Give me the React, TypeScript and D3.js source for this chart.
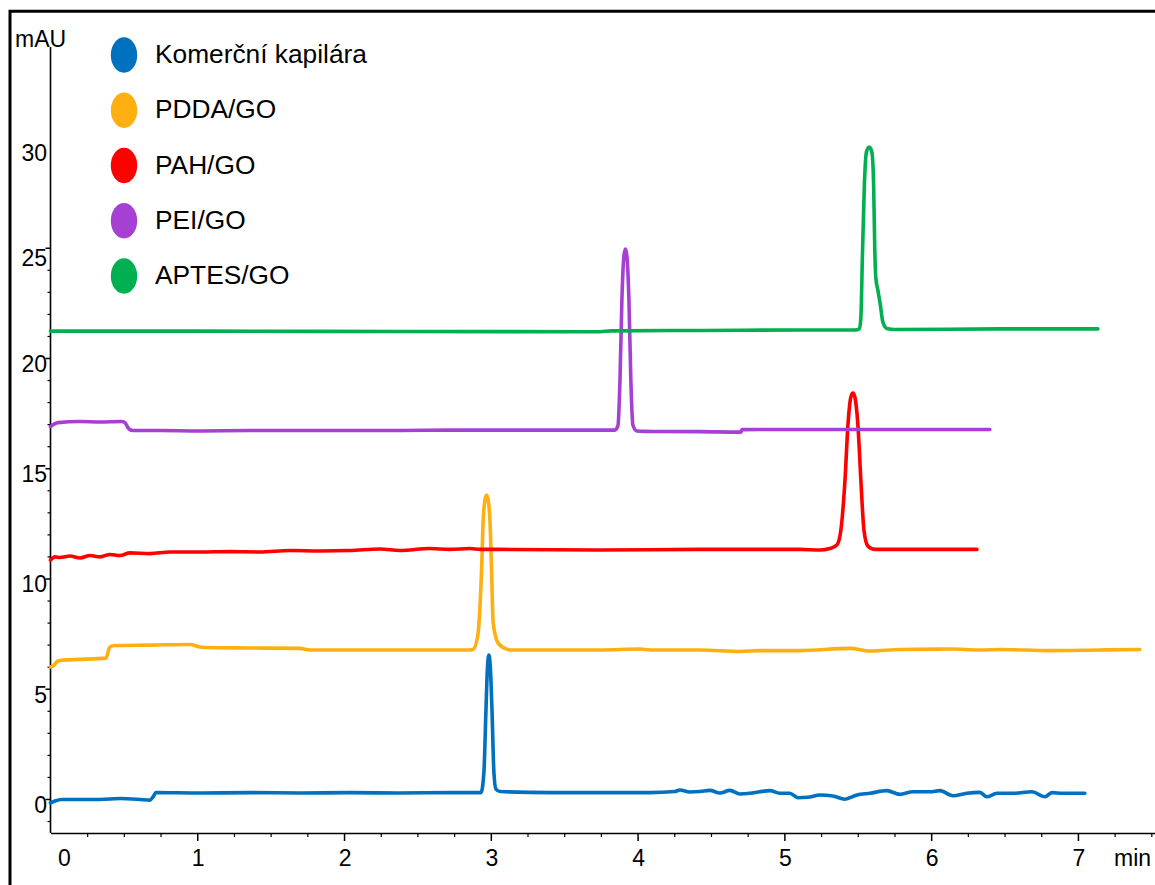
import * as React from "react";
import { useEffect, useRef } from "react";
import * as d3 from "d3";

type Pt = [number, number];

// time (min), absorbance (mAU)
const komercniKapilara: Pt[] = [
  [0, -0.18], [0.031, -0.09], [0.078, -0.02], [0.337, -0.02], [0.473, 0.02], [0.61, -0.02],
  [0.678, -0.05], [0.698, 0.09], [0.719, 0.29], [1.018, 0.27], [1.359, 0.29], [1.7, 0.27],
  [2.04, 0.29], [2.381, 0.27], [2.721, 0.29], [2.933, 0.29], [2.953, 1.22], [2.967, 4.04],
  [2.977, 5.94], [2.987, 6.53], [2.997, 5.94], [3.008, 4.04], [3.021, 1.22], [3.035, 0.45],
  [3.062, 0.34], [3.402, 0.29], [3.743, 0.29], [4.084, 0.29], [4.254, 0.34], [4.288, 0.41],
  [4.356, 0.32], [4.424, 0.34], [4.493, 0.39], [4.561, 0.27], [4.629, 0.39], [4.697, 0.23],
  [4.765, 0.26], [4.833, 0.33], [4.901, 0.38], [4.969, 0.26], [5.037, 0.26], [5.092, 0.06],
  [5.16, 0.08], [5.242, 0.18], [5.33, 0.14], [5.412, -0.01], [5.494, 0.18], [5.583, 0.26],
  [5.698, 0.38], [5.787, 0.21], [5.875, 0.33], [5.991, 0.33], [6.059, 0.38], [6.148, 0.15],
  [6.243, 0.26], [6.332, 0.3], [6.379, 0.1], [6.448, 0.26], [6.557, 0.26], [6.686, 0.33],
  [6.775, 0.1], [6.823, 0.29], [6.897, 0.26], [6.979, 0.26], [7.047, 0.26],
];

const pddaGO: Pt[] = [
  [0, 5.99], [0.017, 6.03], [0.051, 6.26], [0.085, 6.3], [0.201, 6.33], [0.378, 6.39],
  [0.405, 6.89], [0.439, 6.96], [0.678, 6.98], [0.95, 7.01], [1.018, 6.89], [1.052, 6.87],
  [1.359, 6.85], [1.7, 6.83], [1.768, 6.76], [2.04, 6.76], [2.381, 6.76], [2.653, 6.76],
  [2.858, 6.76], [2.878, 6.78], [2.91, 7.36], [2.937, 10.39], [2.948, 12.65], [2.96, 13.56],
  [2.971, 13.79], [2.982, 13.56], [2.994, 12.65], [3.005, 10.39], [3.016, 7.98], [3.05, 7.07],
  [3.108, 6.8], [3.13, 6.76], [3.402, 6.76], [3.743, 6.76], [4.016, 6.8], [4.084, 6.76],
  [4.424, 6.76], [4.697, 6.69], [4.833, 6.73], [5.106, 6.73], [5.446, 6.83], [5.583, 6.71],
  [5.787, 6.78], [6.127, 6.8], [6.332, 6.76], [6.468, 6.78], [6.809, 6.73], [7.149, 6.76],
  [7.422, 6.78],
];

const pahGO: Pt[] = [
  [0, 10.84], [0.031, 10.98], [0.065, 10.95], [0.133, 11.02], [0.201, 10.93], [0.269, 11.04],
  [0.337, 10.98], [0.405, 11.09], [0.473, 11.04], [0.542, 11.16], [0.678, 11.13], [0.814, 11.2],
  [1.018, 11.2], [1.223, 11.22], [1.427, 11.2], [1.631, 11.27], [1.836, 11.25], [2.04, 11.27],
  [2.245, 11.34], [2.381, 11.27], [2.585, 11.36], [2.721, 11.32], [2.858, 11.36], [2.926, 11.32],
  [3.062, 11.32], [3.743, 11.29], [4.424, 11.32], [5.106, 11.32], [5.242, 11.29], [5.31, 11.36],
  [5.358, 11.52], [5.385, 12.2], [5.413, 14.47], [5.433, 16.96], [5.453, 18.23], [5.467, 18.41],
  [5.48, 18.23], [5.501, 16.96], [5.521, 14.47], [5.542, 12.2], [5.569, 11.47], [5.617, 11.32],
  [5.991, 11.32], [6.312, 11.32],
];

const peiGO: Pt[] = [
  [0, 16.89], [0.051, 17.07], [0.201, 17.12], [0.337, 17.1], [0.487, 17.12], [0.507, 17.07],
  [0.535, 16.78], [0.562, 16.71], [0.746, 16.71], [1.018, 16.69], [1.359, 16.71], [1.7, 16.71],
  [2.04, 16.71], [2.381, 16.71], [2.721, 16.73], [3.062, 16.73], [3.402, 16.73], [3.743, 16.73],
  [3.845, 16.73], [3.866, 16.92], [3.88, 19.0], [3.893, 22.63], [3.907, 24.63], [3.917, 24.94],
  [3.927, 24.63], [3.941, 22.63], [3.954, 19.0], [3.968, 16.96], [3.995, 16.69], [4.05, 16.67],
  [4.424, 16.66], [4.704, 16.64], [4.712, 16.75], [5.106, 16.76], [5.787, 16.76], [6.4, 16.76],
];

const aptesGO: Pt[] = [
  [0, 21.22], [1.018, 21.22], [2.381, 21.2], [3.743, 21.19], [3.82, 21.23], [4.424, 21.25],
  [5.106, 21.27], [5.48, 21.27], [5.511, 21.32], [5.521, 21.81], [5.531, 24.44], [5.545, 27.85],
  [5.559, 29.34], [5.578, 29.57], [5.596, 29.34], [5.608, 27.85], [5.616, 24.9], [5.623, 23.63],
  [5.637, 23.08], [5.654, 22.4], [5.671, 21.63], [5.698, 21.34], [5.753, 21.29], [6.468, 21.32],
  [7.136, 21.32],
];

const seriesNames = ["Komerční kapilára", "PDDA/GO", "PAH/GO", "PEI/GO", "APTES/GO"];
const seriesData = [komercniKapilara, pddaGO, pahGO, peiGO, aptesGO];
const seriesColors = ["#0070C0", "#FFB010", "#FF0000", "#A540D2", "#00B050"];

const xTickLabels = [0, 1, 2, 3, 4, 5, 6, 7];
const yTickLabels = [0, 5, 10, 15, 20, 25, 30];

const FONT = "Arial, 'Liberation Sans', sans-serif";

export default function App() {
  const ref = useRef<SVGSVGElement | null>(null);

  useEffect(() => {
    const width = 1155;
    const height = 885;
    const svg = d3.select(ref.current);
    svg.selectAll("*").remove();

    const x = d3.scaleLinear().domain([0, 7.525]).range([50.47, 1155]);
    const y = d3.scaleLinear().domain([-1.542, 34.104]).range([833, 47]);

    // outer frame (left + top only visible)
    svg.append("path")
      .attr("d", `M10,${height} L10,11.3 L${width},11.3`)
      .attr("fill", "none")
      .attr("stroke", "#000")
      .attr("stroke-width", 3);

    // x axis
    const xMinor = d3.range(1, 31).map(i => i * 0.25).filter(v => v % 1 !== 0);
    svg.append("g")
      .attr("transform", "translate(0,833)")
      .call(d3.axisBottom(x).tickValues(xMinor).tickSize(4).tickSizeOuter(0).tickFormat(() => ""))
      .call(g => g.select(".domain").attr("stroke-width", 1.6))
      .call(g => g.selectAll(".tick line").attr("stroke-width", 1.2));
    svg.append("g")
      .attr("transform", "translate(0,833)")
      .call(d3.axisBottom(x).tickValues(xTickLabels.slice(1)).tickSize(8).tickSizeOuter(0).tickFormat(() => ""))
      .call(g => g.select(".domain").remove())
      .call(g => g.selectAll(".tick line").attr("stroke-width", 1.5));

    svg.append("g")
      .selectAll("text")
      .data(xTickLabels)
      .join("text")
      .attr("x", d => x(d) + (d === 0 ? 14 : 1))
      .attr("y", 866)
      .attr("text-anchor", "middle")
      .attr("font-family", FONT)
      .attr("font-size", 23)
      .text(d => d);

    svg.append("text")
      .attr("x", 1114)
      .attr("y", 866)
      .attr("font-family", FONT)
      .attr("font-size", 23)
      .text("min");

    // y axis
    const yMinor = d3.range(-1, 25).filter(v => v % 5 !== 0);
    svg.append("line")
      .attr("x1", 50.5).attr("x2", 50.5)
      .attr("y1", y(34.104)).attr("y2", 833)
      .attr("stroke", "#000").attr("stroke-width", 1.6);
    svg.append("g")
      .attr("transform", "translate(50.5,0)")
      .call(d3.axisLeft(y).tickValues(yMinor).tickSize(3).tickSizeOuter(0).tickFormat(() => ""))
      .call(g => g.select(".domain").remove())
      .call(g => g.selectAll(".tick line").attr("stroke-width", 1.2));
    svg.append("g")
      .attr("transform", "translate(50.5,0)")
      .call(d3.axisLeft(y).tickValues(yTickLabels.filter(v => v <= 25)).tickSize(5).tickSizeOuter(0).tickFormat(() => ""))
      .call(g => g.select(".domain").remove())
      .call(g => g.selectAll(".tick line").attr("stroke-width", 1.5));

    svg.append("g")
      .selectAll("text")
      .data(yTickLabels)
      .join("text")
      .attr("x", 47)
      .attr("y", d => y(d) + (d > 25 ? 24 : d === 25 ? 18 : 14))
      .attr("text-anchor", "end")
      .attr("font-family", FONT)
      .attr("font-size", 23)
      .text(d => d);

    svg.append("text")
      .attr("x", 15)
      .attr("y", 47)
      .attr("font-family", FONT)
      .attr("font-size", 23)
      .text("mAU");

    // traces
    const line = d3.line<Pt>()
      .x(d => x(d[0]))
      .y(d => y(d[1]))
      .curve(d3.curveMonotoneX);

    svg.append("g")
      .selectAll("path")
      .data(seriesData)
      .join("path")
      .attr("d", d => line(d))
      .attr("fill", "none")
      .attr("stroke", (d, i) => seriesColors[i])
      .attr("stroke-width", 3.6)
      .attr("stroke-linejoin", "round")
      .attr("stroke-linecap", "round");

    // legend
    const legend = svg.append("g").attr("transform", "translate(124,55)");
    legend.selectAll("ellipse")
      .data(seriesNames)
      .join("ellipse")
      .attr("cx", 0)
      .attr("cy", (d, i) => i * 55.25)
      .attr("rx", 13.2)
      .attr("ry", 17.7)
      .attr("fill", (d, i) => seriesColors[i]);
    legend.selectAll("text")
      .data(seriesNames)
      .join("text")
      .attr("x", 31)
      .attr("y", (d, i) => i * 55.25 + 8)
      .attr("font-family", FONT)
      .attr("font-size", 26.3)
      .text(d => d);
  }, []);

  return (
    <svg
      ref={ref}
      width={1155}
      height={885}
      style={{ position: "absolute", left: 0, top: 0, background: "#fff" }}
    />
  );
}
